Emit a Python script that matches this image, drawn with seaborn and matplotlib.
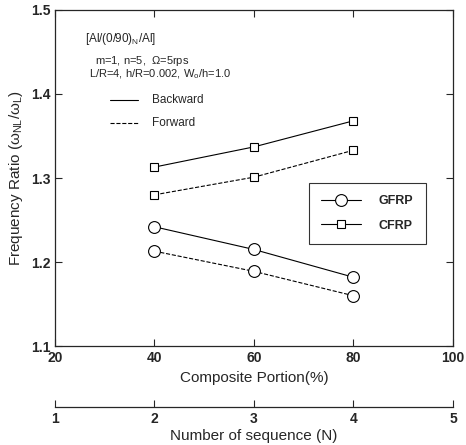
import pandas as pd
import numpy as np
import matplotlib.pyplot as plt
import seaborn as sns
from matplotlib.lines import Line2D

# data
portion = [40, 60, 80]
cfrp_backward = [1.313, 1.337, 1.368]
cfrp_forward = [1.280, 1.301, 1.333]
gfrp_backward = [1.242, 1.215, 1.182]
gfrp_forward = [1.213, 1.189, 1.160]

x_ticks = [20, 40, 60, 80, 100]
y_ticks = [1.1, 1.2, 1.3, 1.4, 1.5]
n_ticks = [1, 2, 3, 4, 5]

sns.set_style("ticks")
plt.rcParams['font.family'] = ['Liberation Sans', 'DejaVu Sans']
plt.rcParams['mathtext.fontset'] = 'custom'
plt.rcParams['mathtext.rm'] = 'Liberation Sans'
plt.rcParams['mathtext.it'] = 'Liberation Sans'

fig = plt.figure(figsize=(4.66, 4.45), dpi=100)
ax = fig.add_axes([0.118, 0.222, 0.854, 0.756])

series = [
    (gfrp_backward, 'o', '-', 8.5),
    (gfrp_forward, 'o', '--', 8.5),
    (cfrp_backward, 's', '-', 6),
    (cfrp_forward, 's', '--', 6),
]
for vals, mk, ls, ms in series:
    df = pd.DataFrame({'Portion': portion, 'Ratio': vals})
    sns.lineplot(data=df, x='Portion', y='Ratio', ax=ax, color='black',
                 linestyle=ls, linewidth=0.8, marker=mk, markersize=ms,
                 markerfacecolor='white', markeredgecolor='black',
                 markeredgewidth=0.8)

ax.set_xlim(20, 100)
ax.set_ylim(1.1, 1.5)
ax.set_xticks(x_ticks)
ax.set_yticks(y_ticks)
ax.tick_params(direction='in', top=True, right=True, length=5, width=0.8,
               labelsize=10)
for lab in ax.get_xticklabels() + ax.get_yticklabels():
    lab.set_fontweight('bold')
for s in ax.spines.values():
    s.set_linewidth(0.9)
ax.set_xlabel('Composite Portion(%)', fontsize=11, labelpad=4)
ax.set_ylabel(r'Frequency Ratio ($\omega_{NL}$/$\omega_L$)', fontsize=11, labelpad=4)

# second x axis for number of sequence
sec = ax.secondary_xaxis(-0.18, functions=(lambda p: (p - 20) / 20 + 1,
                                           lambda n: (n - 1) * 20 + 20))
sec.set_xticks(n_ticks)
sec.tick_params(direction='in', length=5, width=0.8, labelsize=10, pad=4)
for lab in sec.get_xticklabels():
    lab.set_fontweight('bold')
sec.spines['bottom'].set_linewidth(0.9)
sec.set_xlabel('Number of sequence (N)', fontsize=11, labelpad=2)

# annotations
ax.text(0.075, 0.905, r'[Al/(0/90)$_\mathregular{N}$/Al]', transform=ax.transAxes,
        fontsize=8.5)
ax.text(0.10, 0.838, r'm=1, n=5,  $\Omega$=5rps', transform=ax.transAxes,
        fontsize=8)
ax.text(0.085, 0.800, r'L/R=4, h/R=0.002, W$_\mathregular{o}$/h=1.0',
        transform=ax.transAxes, fontsize=8)
ax.plot([0.138, 0.208], [0.732, 0.732], transform=ax.transAxes, color='black',
        lw=0.8, ls='-')
ax.text(0.245, 0.732, 'Backward', transform=ax.transAxes, fontsize=8.5,
        va='center')
ax.plot([0.138, 0.208], [0.663, 0.663], transform=ax.transAxes, color='black',
        lw=0.8, ls='--')
ax.text(0.245, 0.663, 'Forward', transform=ax.transAxes, fontsize=8.5,
        va='center')

handles = [
    Line2D([], [], color='black', lw=0.8, marker='o', markersize=8.5,
           markerfacecolor='white', markeredgewidth=0.8),
    Line2D([], [], color='black', lw=0.8, marker='s', markersize=6,
           markerfacecolor='white', markeredgewidth=0.8),
]
leg = ax.legend(handles, ['GFRP', 'CFRP'], loc='center left',
                bbox_to_anchor=(0.622, 0.395), frameon=True, fancybox=False,
                edgecolor='black', fontsize=9, handlelength=3.2,
                borderpad=1.0, labelspacing=1.0, handletextpad=1.4)
leg.get_frame().set_linewidth(0.8)
for t in leg.get_texts():
    t.set_fontweight('bold')

fig.savefig('out.png', dpi=100)
